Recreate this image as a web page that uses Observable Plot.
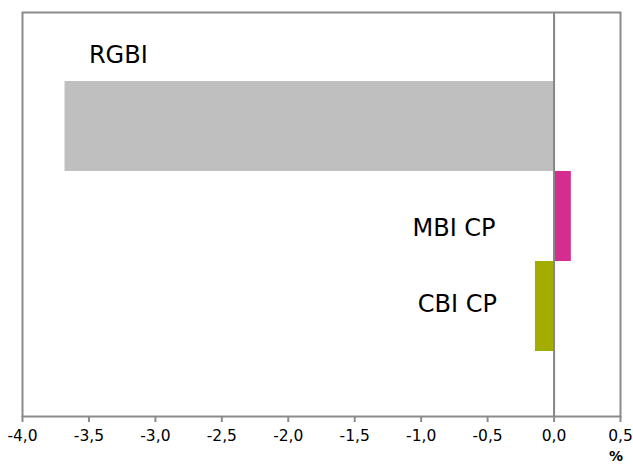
<!DOCTYPE html>
<html>
<head>
<meta charset="utf-8">
<script src="https://cdn.jsdelivr.net/npm/d3@7"></script>
<script src="https://cdn.jsdelivr.net/npm/@observablehq/plot@0.6"></script>
<style>
  html, body { margin: 0; padding: 0; background: #fff; }
  #chart { position: relative; width: 633px; height: 464px; }
  #unit { position: absolute; left: 609px; top: 449px; font: bold 14px/14px "DejaVu Sans", sans-serif; color: #000; }
</style>
</head>
<body>
<div id="chart"></div>
<script>
const categories = ["RGBI", "MBI CP", "CBI CP"];
const values = [-3.68, 0.13, -0.14];
const colors = ["#BFBFBF", "#D42D8F", "#A3AD00"];
const labelX = [-3.5, -0.44, -0.43];
const labelAnchor = ["start", "end", "end"];
const labelDy = [-71, 12, -2];
const xTicks = [-4, -3.5, -3, -2.5, -2, -1.5, -1, -0.5, 0, 0.5];

const data = categories.map((c, i) => ({cat: c, value: values[i], color: colors[i], lx: labelX[i], anchor: labelAnchor[i], dy: labelDy[i]}));

const fmt = d => d3.format(".1f")(d).replace(".", ",").replace("−", "-");

const plot = Plot.plot({
  width: 633,
  height: 464,
  marginLeft: 22,
  marginRight: 13,
  marginTop: 12,
  marginBottom: 48,
  style: {fontFamily: "DejaVu Sans, sans-serif", background: "#fff"},
  x: {domain: [-4, 0.5], ticks: xTicks, tickFormat: fmt},
  y: {domain: categories, paddingInner: 0, paddingOuter: 0.744, align: 0.515, axis: null},
  marks: [
    Plot.barX(data, {x1: 0, x2: "value", y: "cat", fill: "color"}),
    Plot.ruleX([0], {stroke: "#868686", strokeWidth: 2}),
    Plot.frame({stroke: "#8a8a8a", strokeWidth: 2}),
    Plot.axisX({ticks: xTicks, tickFormat: fmt, tickSize: 6, stroke: "#8a8a8a", strokeWidth: 2, fontSize: 15.5, fill: "#000", tickPadding: 7, color: "#000"}),
    ...data.map(d => Plot.text([d], {x: "lx", y: "cat", text: "cat", textAnchor: d.anchor, dy: d.dy, fontSize: 24, fill: "#000"}))
  ]
});
document.getElementById("chart").appendChild(plot);
const u = document.createElement("div");
u.id = "unit";
u.textContent = "%";
document.getElementById("chart").appendChild(u);
</script>
</body>
</html>
